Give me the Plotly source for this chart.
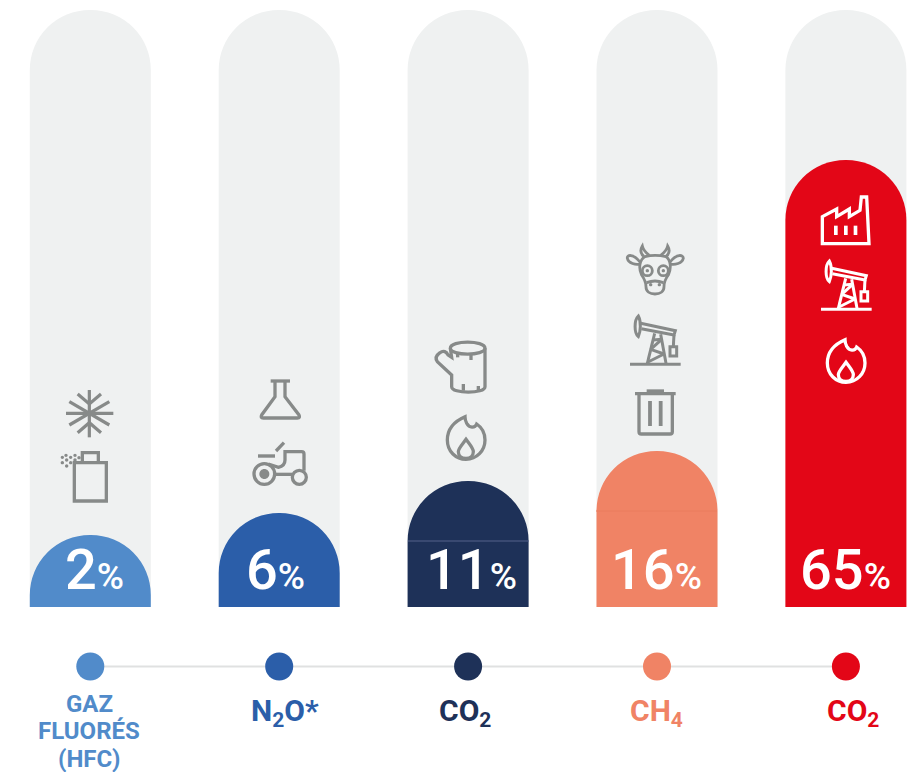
import re
import plotly.graph_objects as go

W, H = 909, 772
positions = [0, 1, 2, 3, 4]
colors = ["#518bca", "#2b5ea9", "#1e3158", "#f08365", "#e30617"]
track_height = [597, 597, 597, 597, 597]
bar_height = [72, 94, 126, 156, 447]
percent_labels = ["2", "6", "11", "16", "65"]
percent_shift = [4, -4, 3, -1, 0]
gas_labels = ["GAZ", "N<sub>2</sub>O*", "CO<sub>2</sub>", "CH<sub>4</sub>", "CO<sub>2</sub>"]
gas_shift = [-1, 6, -3, -1, 7]
gas_extra_lines = ["FLUORÉS", "(HFC)"]

GREY = "#878a89"
WHITE = "#ffffff"
PX0, PXSTEP, BASE = 90.3, 188.9, 607.0


def tr(path, ox, oy, dx=0.0, dy=0.0):
    def rep(m):
        x = ox + float(m.group(1)) / 3 + dx
        y = oy + float(m.group(2)) / 3 + dy
        return f"{x / W:.5f},{1 - y / H:.5f}"
    return re.sub(r"(-?[\d.]+),(-?[\d.]+)", rep, path)


def circ(cx, cy, r):
    k = 0.5523 * r
    return (f"M{cx - r},{cy} C{cx - r},{cy - k} {cx - k},{cy - r} {cx},{cy - r} "
            f"C{cx + k},{cy - r} {cx + r},{cy - k} {cx + r},{cy} "
            f"C{cx + r},{cy + k} {cx + k},{cy + r} {cx},{cy + r} "
            f"C{cx - k},{cy + r} {cx - r},{cy + k} {cx - r},{cy} Z")


shapes = []


def stroke(paths, ox, oy, color, width=3.0, dx=0, dy=0):
    for p in paths:
        shapes.append(dict(type="path", xref="paper", yref="paper", path=tr(p, ox, oy, dx, dy),
                           line=dict(color=color, width=width), layer="above"))


def fill(paths, ox, oy, color, dx=0, dy=0):
    for p in paths:
        shapes.append(dict(type="path", xref="paper", yref="paper", path=tr(p, ox, oy, dx, dy),
                           fillcolor=color, line=dict(width=0), layer="above"))


# --- pictograms (drawn in 3x crop coordinates) ---
snow = ["M108,100 L250,100", "M178,30 L178,172", "M118,65 L238,135", "M238,65 L118,135",
        "M143,42 L178,72 L213,42", "M143,158 L178,128 L213,158"]
stroke(snow, 30, 380, GREY, 3.2)
spray = ["M133,248 L229,248 L229,363 L133,363 Z", "M157,248 L157,218 L205,218 L205,248"]
stroke(spray, 30, 380, GREY, 3.3)
fill([circ(x, y, 5) for x, y in [(97, 232), (97, 248), (110, 240), (110, 258), (122, 232),
                                  (122, 248), (135, 226), (135, 240), (147, 233), (108, 226)]],
     30, 380, GREY)
flask = ["M722,3 L780,3", "M735,3 L735,50 L695,105 Q690,114 700,114 L802,114 Q812,114 807,105 L765,50 L765,3"]
stroke(flask, 30, 380, GREY, 3.3)
tractor = [circ(703, 282, 31), circ(808, 292, 21),
           "M738,283 L787,283",
           "M715,252 L745,262 Q765,258 765,240 L765,215 L815,215 Q822,215 822,222 L822,272",
           "M738,213 L762,188"]
stroke(tractor, 30, 380, GREY, 3.3)
stroke(["M684,228 L735,228"], 30, 380, GREY, 3.4)
fill([circ(703, 282, 15)], 30, 380, GREY)

log = ["M91,325 C91,300 195,300 195,325 C195,348 91,348 91,325 Z",
       "M195,325 L195,440 C195,462 95,462 95,440 L95,405 L52,365 C45,355 50,345 60,338 C70,330 80,335 84,345 L95,352 L91,325",
       "M113,340 L113,352", "M153,342 L153,360", "M130,432 L130,452", "M175,438 L175,450"]
stroke(log, 420, 240, GREY, 3.3)

flame = ["M135,530 C100,545 82,570 82,600 C82,635 108,658 138,658 C170,658 195,632 195,600 "
         "C195,580 185,562 170,552 C165,565 148,565 140,550 C136,542 135,535 135,530 Z",
         "M138,598 C128,612 115,625 115,635 C115,648 125,655 138,655 C150,655 160,648 160,635 "
         "C160,625 148,612 138,598 Z"]
stroke(flame, 420, 240, GREY, 3.3)
stroke(flame, 420, 240, WHITE, 3.3, 380, -77)

pump = ["M630,373 L782,373",
        "M655,228 C642,240 642,280 655,290 C662,275 664,245 655,228 Z",
        "M662,250 L766,272 L762,285 L664,266",
        "M762,285 L760,320", "M750,320 L770,320 L770,348 L750,348 Z",
        "M704,280 L682,370", "M722,283 L738,370",
        "M698,300 L726,298", "M692,328 L725,298", "M692,328 L732,342", "M684,366 L732,342"]
stroke(pump, 420, 240, GREY, 3.0)
stroke(pump, 420, 240, WHITE, 3.0, 191, -55)

cow = ["M675,50 Q705,42 738,50 C752,60 755,85 745,105 C735,118 732,125 732,140 C732,155 720,162 705,162 "
       "C690,162 678,155 678,140 C678,125 672,115 665,105 C655,85 658,60 675,50 Z",
       "M672,50 C660,40 660,30 667,18 C670,32 680,40 688,46",
       "M738,50 C750,40 750,30 743,18 C740,32 730,40 722,46",
       "M660,66 C640,40 620,44 622,55 C625,70 648,76 660,72",
       "M750,66 C770,40 790,44 790,55 C787,70 764,76 750,72",
       circ(682, 92, 15), circ(730, 92, 15),
       "M680,128 Q705,118 730,128"]
stroke(cow, 420, 240, GREY, 2.8)
fill([circ(682, 92, 5), circ(730, 92, 5), circ(692, 134, 5), circ(718, 134, 5)], 420, 240, GREY)

trash = ["M645,461 L767,461", "M680,453 L732,453",
         "M657,465 L657,575 Q657,582 664,582 L750,582 Q757,582 757,575 L757,465"]
stroke(trash, 420, 240, GREY, 3.3)
stroke(["M690,483 L690,558", "M722,483 L722,558"], 420, 240, GREY, 3.8)

factory = ["M67,176 L67,95 L110,72 L110,95 L148,72 L148,95 L180,76 L184,36 L200,36 L207,176 Z"]
stroke(factory, 800, 185, WHITE, 3.3)
fill(["M102,122 L113,122 L113,150 L102,150 Z", "M132,122 L143,122 L143,150 L132,150 Z",
      "M161,122 L172,122 L172,150 L161,150 Z"], 800, 185, WHITE)

# faint seams where the coloured cap meets the body of the bar
for px0, px1, py, col in [(408, 529, 541, "#54628a"), (596, 717, 511, "#ea7c5e")]:
    shapes.append(dict(type="line", xref="paper", yref="paper", x0=px0 / W, x1=px1 / W,
                       y0=1 - py / H, y1=1 - py / H, line=dict(color=col, width=1), layer="above"))

fig = go.Figure()
bar_w = 121 / PXSTEP
fig.add_bar(x=positions, y=track_height, width=bar_w,
            marker=dict(color="#eff1f1", cornerradius=60, line=dict(width=0)), hoverinfo="skip")
fig.add_bar(x=positions, y=bar_height, width=bar_w, yaxis="y2",
            marker=dict(color=colors, cornerradius=60, line=dict(width=0)), hoverinfo="skip")
fig.add_scatter(x=positions, y=[-59.5] * 5, mode="lines+markers",
                line=dict(color="#e0e1e1", width=2),
                marker=dict(size=28, color=colors, line=dict(width=0)), hoverinfo="skip")

ann = []
for i, (lab, c) in enumerate(zip(percent_labels, colors)):
    ann.append(dict(x=i, y=37, xref="x", yref="y", xshift=percent_shift[i], showarrow=False, yanchor="middle",
                    text=f'{lab}<span style="font-size:37px">%</span>',
                    font=dict(family="Roboto", size=56, color="#ffffff", weight=500)))
for i, (lab, c) in enumerate(zip(gas_labels, colors)):
    y_c = 607 - 704 if i == 0 else 607 - 712
    size = 24 if i == 0 else 30
    ann.append(dict(x=i, y=y_c, xref="x", yref="y", xshift=gas_shift[i], showarrow=False, yanchor="middle",
                    text=lab, font=dict(family="Roboto", size=size, color=c, weight="bold")))
for lab, y_c in zip(gas_extra_lines, [607 - 731, 607 - 759]):
    ann.append(dict(x=0, y=y_c, xref="x", yref="y", xshift=-1, showarrow=False, yanchor="middle",
                    text=lab, font=dict(family="Roboto", size=24, color=colors[0], weight="bold")))

fig.update_layout(
    width=W, height=H, autosize=False, margin=dict(l=0, r=0, t=0, b=0, pad=0),
    paper_bgcolor="#ffffff", plot_bgcolor="rgba(0,0,0,0)", showlegend=False, barmode="overlay",
    xaxis=dict(visible=False, range=[-PX0 / PXSTEP, (W - PX0) / PXSTEP], fixedrange=True),
    yaxis=dict(visible=False, range=[BASE - H, BASE], fixedrange=True),
    yaxis2=dict(visible=False, overlaying="y", range=[BASE - H, BASE], fixedrange=True),
    shapes=shapes, annotations=ann,
)
fig.write_html("out.html", config={"displayModeBar": False},
               post_script="document.body.style.margin='0';document.body.style.overflow='hidden';")
